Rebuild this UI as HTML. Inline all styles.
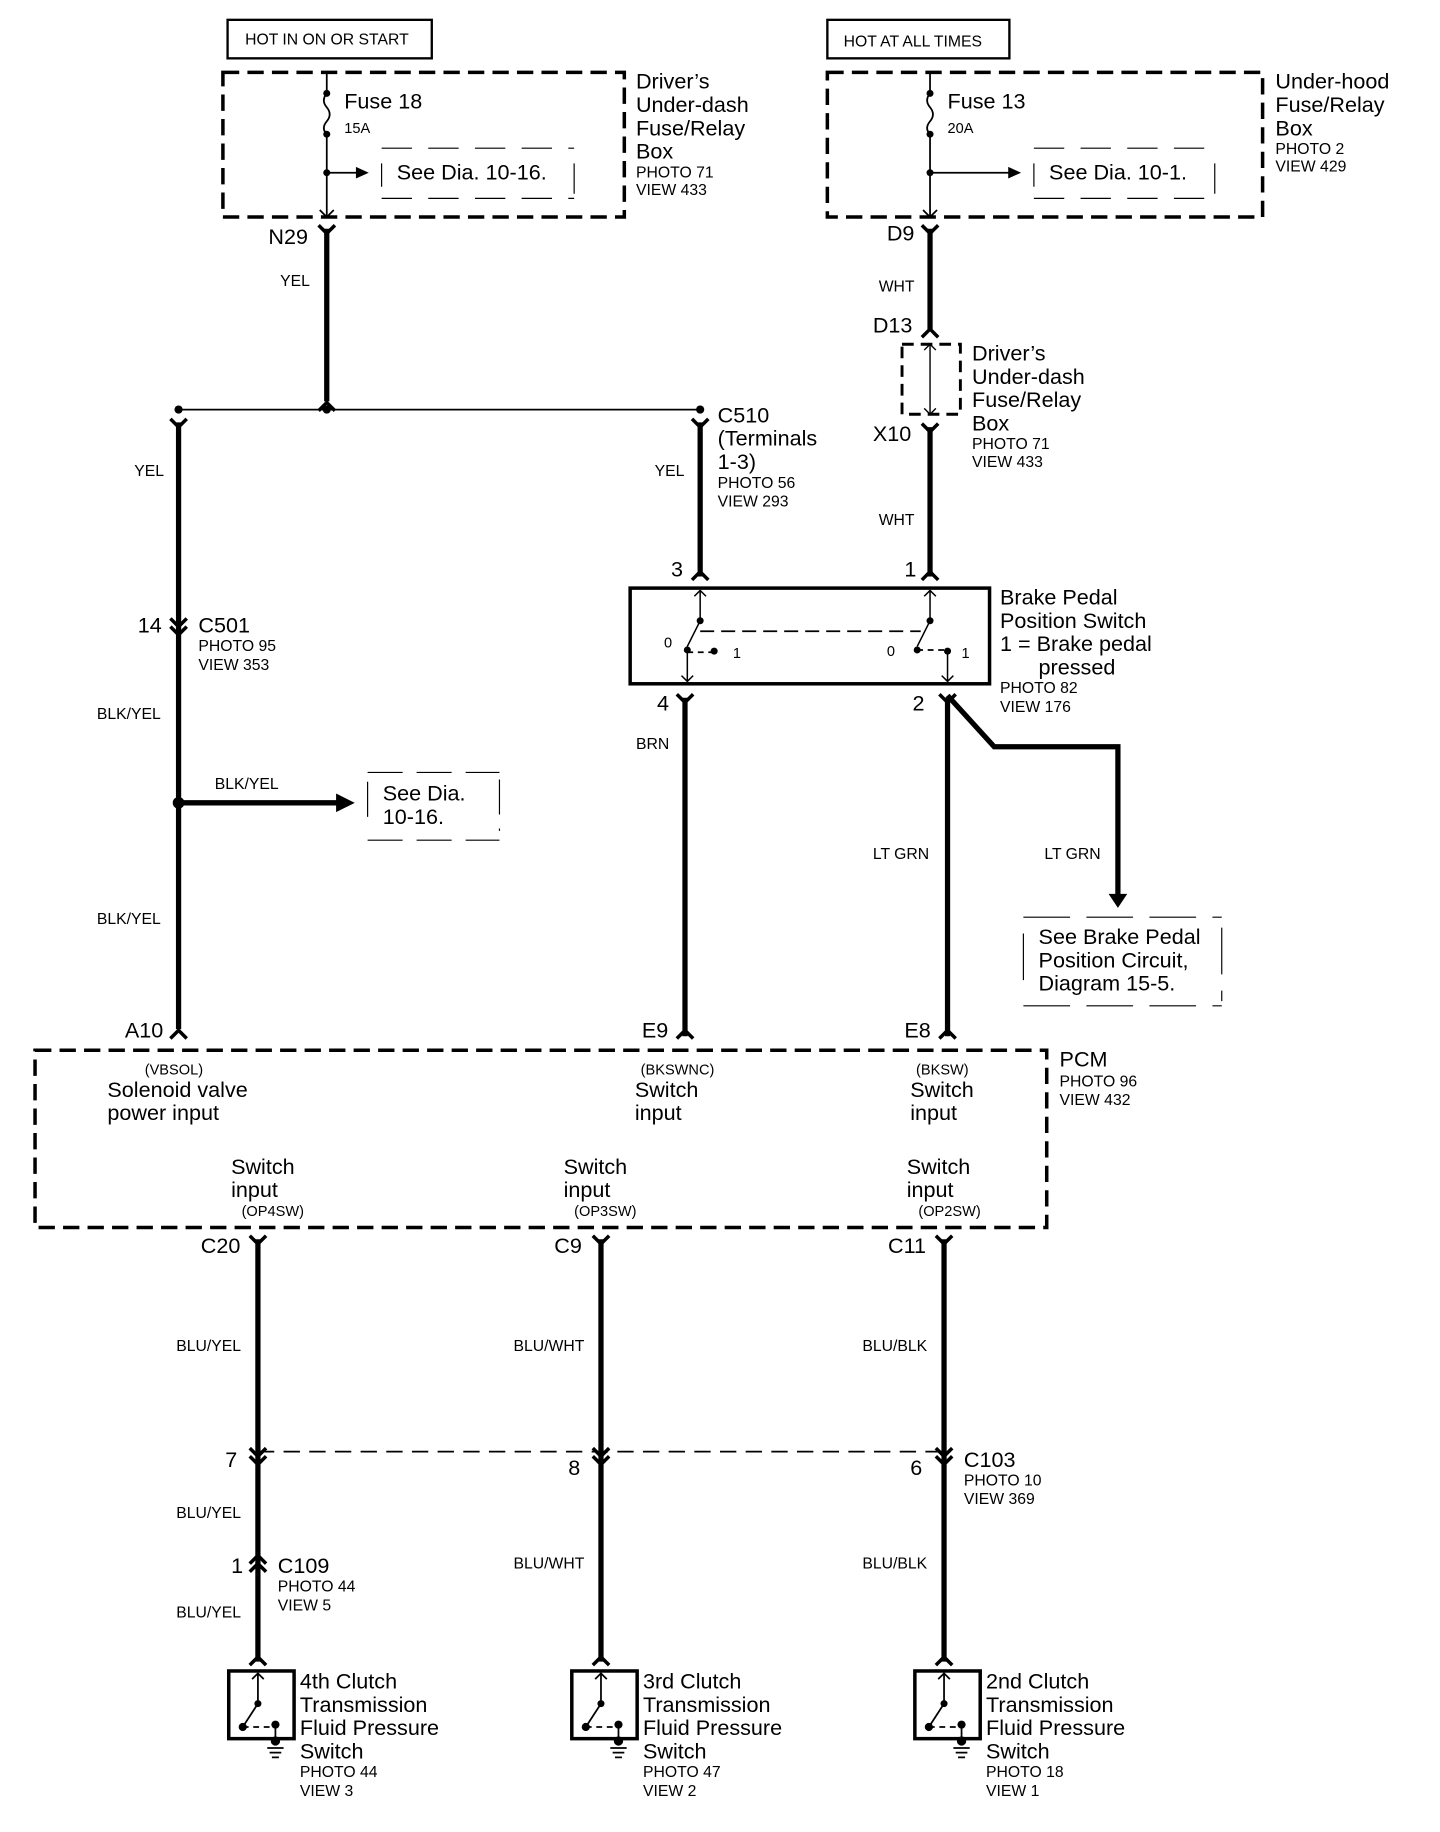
<!DOCTYPE html>
<html><head><meta charset="utf-8"><style>
html,body{margin:0;padding:0;background:#fff;}
svg{display:block;}
text{font-family:"Liberation Sans",Arial,sans-serif;fill:#000;}
.b{font-size:18.5px;}
.s{font-size:13.5px;}
.xs{font-size:12.5px;}
</style></head><body>
<svg width="1440" height="1832" viewBox="0 0 1234 1570" xmlns="http://www.w3.org/2000/svg">
<g fill="none" stroke="#000">
<rect x="195" y="17" width="175" height="33" stroke-width="2"/>
<rect x="709" y="17" width="156" height="33" stroke-width="2"/>
<rect x="191" y="62" width="344" height="124" stroke-width="3" stroke-dasharray="14,7"/>
<rect x="709" y="62" width="373" height="124" stroke-width="3" stroke-dasharray="14,7"/>
<path d="M280 62 V80 M280 115 V186" stroke-width="1.5"/>
<path d="M280 80 q-5 6 0 12 q5 6 0 12 q-5 6 0 11" stroke-width="1.5"/>
<path d="M280 148 H306" stroke-width="1.5"/>
<path d="M327 140 V160 M492 140 V170 M327 127 H492 M327 170 H492" stroke-width="1" stroke-dasharray="26,14"/>
<path d="M797 62 V80 M797 115 V186" stroke-width="1.5"/>
<path d="M797 80 q-5 6 0 12 q5 6 0 12 q-5 6 0 11" stroke-width="1.5"/>
<path d="M797 148 H865" stroke-width="1.5"/>
<path d="M886 140 V160 M1041 140 V170 M886 127 H1041 M886 170 H1041" stroke-width="1" stroke-dasharray="26,14"/>
<path d="M274 180 L280 186 L286 180 M791 180 L797 186 L803 180" stroke-width="1.5"/>
<g stroke-width="4.5">
<path d="M280 196 V344"/>
<path d="M797 196 V282"/>
<path d="M797 366 V494"/>
<path d="M153 362 V882"/>
<path d="M600 362 V494"/>
<path d="M587 598 V888"/>
<path d="M812 598 V888"/>
<path d="M812 596 L852 640 H958 V770"/>
<path d="M153 688 H290"/>
<path d="M221 1062 V1424"/>
<path d="M515 1062 V1424"/>
<path d="M809 1062 V1424"/>
</g>
<g stroke-width="3">
<path d="M273 193 L280 200 L287 193 M790 193 L797 200 L804 193 M146 359 L153 366 L160 359 M593 359 L600 366 L607 359 M790 363 L797 370 L804 363 M580 595 L587 602 L594 595 M805 595 L812 602 L819 595 M214 1059 L221 1066 L228 1059 M508 1059 L515 1066 L522 1059 M802 1059 L809 1066 L816 1059"/>
<path d="M273 352 L280 345 L287 352 M790 289 L797 282 L804 289 M593 497 L600 490 L607 497 M790 497 L797 490 L804 497 M146 890 L153 883 L160 890 M580 890 L587 883 L594 890 M805 890 L812 883 L819 890 M214 1427 L221 1420 L228 1427 M508 1427 L515 1420 L522 1427 M802 1427 L809 1420 L816 1427"/>
<path d="M146 530 L153 537 L160 530 M146 537 L153 544 L160 537"/>
<path d="M214 1241 L221 1248 L228 1241 M214 1248 L221 1255 L228 1248 M508 1241 L515 1248 L522 1241 M508 1248 L515 1255 L522 1248 M802 1241 L809 1248 L816 1241 M802 1248 L809 1255 L816 1248"/>
<path d="M214 1340 L221 1333 L228 1340 M214 1347 L221 1340 L228 1347"/>
</g>
<path d="M153 351 H600" stroke-width="1.5"/>
<path d="M221 1244 H809" stroke-width="1.5" stroke-dasharray="14,8"/>
<rect x="773" y="295" width="50" height="60" stroke-width="2.5" stroke-dasharray="10,6"/>
<path d="M797 295 V355 M792 300 L797 295 L802 300 M792 350 L797 355 L802 350" stroke-width="1.2"/>
<rect x="540" y="504" width="308" height="82" stroke-width="3"/>
<g stroke-width="1.3">
<path d="M600 506 V532 M595 511 L600 506 L605 511"/>
<path d="M600 532 L589 554 V584 M584 579 L589 584 L594 579"/>
<path d="M797 506 V532 M792 511 L797 506 L802 511"/>
<path d="M797 532 L786 554"/>
<path d="M812 558 V584 M807 579 L812 584 L817 579"/>
</g>
<path d="M600 541 H789" stroke-width="1.5" stroke-dasharray="12,6"/>
<path d="M589 559 H612 M786 557 H812" stroke-width="1.5" stroke-dasharray="5,4"/>
<path d="M315 662 H428 M315 720 H428 M315 670 V712 M428 668 V712" stroke-width="1" stroke-dasharray="30,12"/>
<path d="M877 786 H1047 M877 862 H1047 M877 800 V850 M1047 795 V858" stroke-width="1" stroke-dasharray="40,14"/>
<rect x="30" y="900" width="867" height="152" stroke-width="3" stroke-dasharray="14,7"/>
<g stroke-width="3"><rect x="196" y="1432" width="56" height="58"/><rect x="490" y="1432" width="56" height="58"/><rect x="784" y="1432" width="56" height="58"/></g>
<g stroke-width="1.5">
<path d="M221 1434 V1460 M216 1439 L221 1434 L226 1439 M221 1460 L208 1480 M236 1478 V1495 M229 1498 H243 M231 1502 H241 M233 1506 H239"/>
<path d="M515 1434 V1460 M510 1439 L515 1434 L520 1439 M515 1460 L502 1480 M530 1478 V1495 M523 1498 H537 M525 1502 H535 M527 1506 H533"/>
<path d="M809 1434 V1460 M804 1439 L809 1434 L814 1439 M809 1460 L796 1480 M824 1478 V1495 M817 1498 H831 M819 1502 H829 M821 1506 H827"/>
</g>
<path d="M208 1480 H236 M502 1480 H530 M796 1480 H824" stroke-width="1.5" stroke-dasharray="5,4"/>
</g>
<g fill="#000">
<circle cx="280" cy="80" r="3"/><circle cx="280" cy="115" r="3"/><circle cx="280" cy="148" r="3"/>
<circle cx="797" cy="80" r="3"/><circle cx="797" cy="115" r="3"/><circle cx="797" cy="148" r="3"/>
<path d="M305 143 L316 148 L305 153Z M864 143 L875 148 L864 153Z"/>
<circle cx="153" cy="351" r="3.5"/><circle cx="280" cy="351" r="3.5"/><circle cx="600" cy="351" r="3.5"/>
<circle cx="153" cy="688" r="5"/>
<path d="M288 680 L304 688 L288 696Z"/>
<path d="M950 766 L958 778 L966 766Z"/>
<circle cx="600" cy="532" r="3"/><circle cx="589" cy="557" r="3"/><circle cx="612" cy="558" r="3"/>
<circle cx="797" cy="532" r="3"/><circle cx="786" cy="557" r="3"/><circle cx="812" cy="558" r="3"/>
<circle cx="221" cy="1460" r="3"/><circle cx="208" cy="1480" r="3.5"/><circle cx="236" cy="1478" r="3.5"/><circle cx="236" cy="1492" r="4"/>
<circle cx="515" cy="1460" r="3"/><circle cx="502" cy="1480" r="3.5"/><circle cx="530" cy="1478" r="3.5"/><circle cx="530" cy="1492" r="4"/>
<circle cx="809" cy="1460" r="3"/><circle cx="796" cy="1480" r="3.5"/><circle cx="824" cy="1478" r="3.5"/><circle cx="824" cy="1492" r="4"/>
</g>
<text x="210" y="38" class="s">HOT IN ON OR START</text>
<text x="723" y="40" class="s">HOT AT ALL TIMES</text>
<text x="295" y="93" class="b">Fuse 18</text><text x="295" y="114" class="xs">15A</text>
<text x="340" y="154" class="b">See Dia. 10-16.</text>
<text x="812" y="93" class="b">Fuse 13</text><text x="812" y="114" class="xs">20A</text>
<text x="899" y="154" class="b">See Dia. 10-1.</text>
<text class="b"><tspan x="545" y="76">Driver’s</tspan><tspan x="545" y="96">Under-dash</tspan><tspan x="545" y="116">Fuse/Relay</tspan><tspan x="545" y="136">Box</tspan></text>
<text class="s"><tspan x="545" y="152">PHOTO 71</tspan><tspan x="545" y="167">VIEW 433</tspan></text>
<text class="b"><tspan x="1093" y="76">Under-hood</tspan><tspan x="1093" y="96">Fuse/Relay</tspan><tspan x="1093" y="116">Box</tspan></text>
<text class="s"><tspan x="1093" y="132">PHOTO 2</tspan><tspan x="1093" y="147">VIEW 429</tspan></text>
<text x="230" y="209" class="b">N29</text>
<text x="240" y="245" class="s">YEL</text>
<text x="760" y="206" class="b">D9</text>
<text x="753" y="250" class="s">WHT</text>
<text x="748" y="285" class="b">D13</text>
<text x="748" y="378" class="b">X10</text>
<text x="753" y="450" class="s">WHT</text>
<text class="b"><tspan x="833" y="309">Driver’s</tspan><tspan x="833" y="329">Under-dash</tspan><tspan x="833" y="349">Fuse/Relay</tspan><tspan x="833" y="369">Box</tspan></text>
<text class="s"><tspan x="833" y="385">PHOTO 71</tspan><tspan x="833" y="400">VIEW 433</tspan></text>
<text class="b"><tspan x="615" y="362">C510</tspan><tspan x="615" y="382">(Terminals</tspan><tspan x="615" y="402">1-3)</tspan></text>
<text class="s"><tspan x="615" y="418">PHOTO 56</tspan><tspan x="615" y="434">VIEW 293</tspan></text>
<text x="561" y="408" class="s">YEL</text>
<text x="115" y="408" class="s">YEL</text>
<text x="575" y="494" class="b">3</text>
<text x="775" y="494" class="b">1</text>
<text class="b"><tspan x="857" y="518">Brake Pedal</tspan><tspan x="857" y="538">Position Switch</tspan><tspan x="857" y="558">1 = Brake pedal</tspan><tspan x="890" y="578">pressed</tspan></text>
<text class="s"><tspan x="857" y="594">PHOTO 82</tspan><tspan x="857" y="610">VIEW 176</tspan></text>
<text x="569" y="555" class="xs">0</text><text x="628" y="564" class="xs">1</text>
<text x="760" y="562" class="xs">0</text><text x="824" y="564" class="xs">1</text>
<text x="563" y="609" class="b">4</text>
<text x="782" y="609" class="b">2</text>
<text x="545" y="642" class="s">BRN</text>
<text x="748" y="736" class="s">LT GRN</text>
<text x="895" y="736" class="s">LT GRN</text>
<text class="b"><tspan x="890" y="809">See Brake Pedal</tspan><tspan x="890" y="829">Position   Circuit,</tspan><tspan x="890" y="849">Diagram 15-5.</tspan></text>
<text x="118" y="542" class="b">14</text>
<text x="170" y="542" class="b">C501</text>
<text class="s"><tspan x="170" y="558">PHOTO 95</tspan><tspan x="170" y="574">VIEW 353</tspan></text>
<text x="83" y="616" class="s">BLK/YEL</text>
<text x="184" y="676" class="s">BLK/YEL</text>
<text class="b"><tspan x="328" y="686">See Dia.</tspan><tspan x="328" y="706">10-16.</tspan></text>
<text x="83" y="792" class="s">BLK/YEL</text>
<text x="107" y="889" class="b">A10</text>
<text x="550" y="889" class="b">E9</text>
<text x="775" y="889" class="b">E8</text>
<text x="908" y="914" class="b">PCM</text>
<text class="s"><tspan x="908" y="931">PHOTO 96</tspan><tspan x="908" y="947">VIEW 432</tspan></text>
<text x="124" y="921" class="xs">(VBSOL)</text>
<text class="b"><tspan x="92" y="940">Solenoid valve</tspan><tspan x="92" y="960">power input</tspan></text>
<text x="549" y="921" class="xs">(BKSWNC)</text>
<text class="b"><tspan x="544" y="940">Switch</tspan><tspan x="544" y="960">input</tspan></text>
<text x="785" y="921" class="xs">(BKSW)</text>
<text class="b"><tspan x="780" y="940">Switch</tspan><tspan x="780" y="960">input</tspan></text>
<text class="b"><tspan x="198" y="1006">Switch</tspan><tspan x="198" y="1026">input</tspan></text>
<text x="207" y="1042" class="xs">(OP4SW)</text>
<text class="b"><tspan x="483" y="1006">Switch</tspan><tspan x="483" y="1026">input</tspan></text>
<text x="492" y="1042" class="xs">(OP3SW)</text>
<text class="b"><tspan x="777" y="1006">Switch</tspan><tspan x="777" y="1026">input</tspan></text>
<text x="787" y="1042" class="xs">(OP2SW)</text>
<text x="172" y="1074" class="b">C20</text>
<text x="475" y="1074" class="b">C9</text>
<text x="761" y="1074" class="b">C11</text>
<text x="151" y="1158" class="s">BLU/YEL</text>
<text x="440" y="1158" class="s">BLU/WHT</text>
<text x="739" y="1158" class="s">BLU/BLK</text>
<text x="193" y="1257" class="b">7</text>
<text x="487" y="1264" class="b">8</text>
<text x="780" y="1264" class="b">6</text>
<text x="826" y="1257" class="b">C103</text>
<text class="s"><tspan x="826" y="1273">PHOTO 10</tspan><tspan x="826" y="1289">VIEW 369</tspan></text>
<text x="151" y="1301" class="s">BLU/YEL</text>
<text x="198" y="1348" class="b">1</text>
<text x="238" y="1348" class="b">C109</text>
<text class="s"><tspan x="238" y="1364">PHOTO 44</tspan><tspan x="238" y="1380">VIEW 5</tspan></text>
<text x="151" y="1386" class="s">BLU/YEL</text>
<text x="440" y="1344" class="s">BLU/WHT</text>
<text x="739" y="1344" class="s">BLU/BLK</text>
<text class="b"><tspan x="257" y="1447">4th Clutch</tspan><tspan x="257" y="1467">Transmission</tspan><tspan x="257" y="1487">Fluid Pressure</tspan><tspan x="257" y="1507">Switch</tspan></text>
<text class="s"><tspan x="257" y="1523">PHOTO 44</tspan><tspan x="257" y="1539">VIEW 3</tspan></text>
<text class="b"><tspan x="551" y="1447">3rd Clutch</tspan><tspan x="551" y="1467">Transmission</tspan><tspan x="551" y="1487">Fluid Pressure</tspan><tspan x="551" y="1507">Switch</tspan></text>
<text class="s"><tspan x="551" y="1523">PHOTO 47</tspan><tspan x="551" y="1539">VIEW 2</tspan></text>
<text class="b"><tspan x="845" y="1447">2nd Clutch</tspan><tspan x="845" y="1467">Transmission</tspan><tspan x="845" y="1487">Fluid Pressure</tspan><tspan x="845" y="1507">Switch</tspan></text>
<text class="s"><tspan x="845" y="1523">PHOTO 18</tspan><tspan x="845" y="1539">VIEW 1</tspan></text>
</svg>
</body></html>
